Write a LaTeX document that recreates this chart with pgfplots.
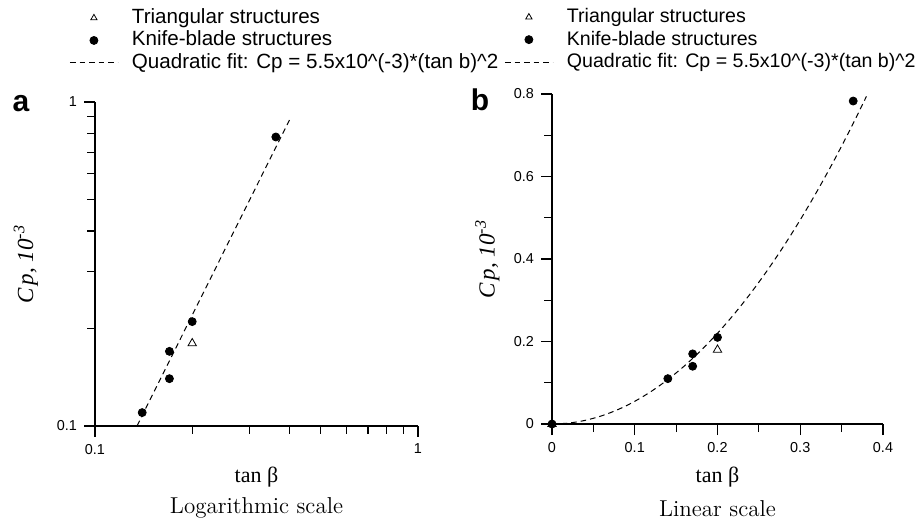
\documentclass[border=0pt]{standalone}
\usepackage{fontspec}
\newfontfamily\arial{Liberation Sans}
\newfontfamily\tnr{Liberation Serif}
\usepackage{pgfplots}
\pgfplotsset{compat=1.18}

\pgfplotsset{
  panel/.style={
    scale only axis,
    axis lines=left,
    axis line style={-, line width=0.6pt},
    tick align=outside,
    tick style={line width=0.6pt, black},
    minor tick style={line width=0.6pt, black},
    major tick length=5.5pt,
    minor tick length=4pt,
    /pgf/number format/assume math mode=true,
    tick label style={font=\arial\fontsize{7.2}{8}\selectfont},
    clip mode=individual,
    legend cell align=left,
    legend style={draw=none, fill=none, anchor=north west,
      font=\arial\fontsize{10.3}{12}\selectfont,
      nodes={inner sep=0pt, text height=7.5pt, text depth=2pt},
      row sep=1.75pt, column sep=0pt, inner sep=0pt},
    xlabel style={font=\tnr\fontsize{11}{13}\selectfont, anchor=center},
    ylabel style={font=\tnr\itshape\fontsize{11.5}{13}\selectfont, anchor=center, rotate=0},
  },
  tri/.style={only marks, mark=triangle, mark size=2.4pt,
    mark options={line width=0.4pt, fill=white, solid},
    legend image code/.code={\path[draw=none] (0pt,0pt) rectangle (31pt,0pt);
      \draw[mark size=1.8pt] plot coordinates {(12pt,0pt)};}},
  dot/.style={only marks, mark=*, mark size=2pt, black,
    legend image code/.code={\path[draw=none] (0pt,0pt) rectangle (31pt,0pt);
      \draw plot coordinates {(12pt,0pt)};}},
  fit/.style={black, line width=0.5pt, dash pattern=on 2.8pt off 2pt,
    legend image code/.code={\path[draw=none] (0pt,0pt) rectangle (31pt,0pt);
      \draw (0pt,0pt) -- (24pt,0pt);}},
}

\begin{document}
\begin{tikzpicture}
\path[use as bounding box] (0,0) rectangle (461pt,260.5pt);

% (a) logarithmic scale
\begin{axis}[panel,
  at={(47.5pt,47.5pt)}, anchor=south west,
  width=161.5pt, height=162pt,
  xmode=log, ymode=log,
  xmin=0.1, xmax=1, ymin=0.1, ymax=1,
  xtick={0.1,1}, xticklabels={0.1,1},
  ytick={0.1,1}, yticklabels={0.1,1},
  minor xtick={0.2,0.3,0.4,0.5,0.6,0.7,0.8,0.9},
  minor ytick={0.2,0.3,0.4,0.5,0.6,0.7,0.8,0.9},
  xlabel={tan β},
  xlabel style={at={(rel axis cs:0.5,-0.158)}},
  ylabel={C\kern1.5pt p, 10\textsuperscript{-3}},
  ylabel style={at={(rel axis cs:-0.214,0.5)}},
  legend style={at={(rel axis cs:-0.0804,1.29)}},
]
\addplot[tri] coordinates {(0.20,0.18)};
\addlegendentry{Triangular structures}
\addplot[dot] coordinates {(0.14,0.11) (0.17,0.17) (0.17,0.14) (0.20,0.21) (0.363,0.78)};
\addlegendentry{Knife-blade structures}
\addplot[fit] coordinates {(0.135,0.1002) (0.40,0.88)};
\addlegendentry{Quadratic fit: Cp = 5.5x10\^{}(-3)*(tan b)\^{}2}
\node[font=\rmfamily\fontsize{11.5}{13}\selectfont] at (rel axis cs:0.5,-0.253) {Logarithmic scale};
\node[font=\arial\bfseries\fontsize{15}{17}\selectfont] at (rel axis cs:-0.229,0.994) {a};
\end{axis}

% (b) linear scale
\begin{axis}[panel,
  at={(276pt,48.5pt)}, anchor=south west,
  width=165.5pt, height=165pt,
  xmin=0, xmax=0.4, ymin=0, ymax=0.8,
  xtick={0,0.1,0.2,0.3,0.4},
  minor xtick={0.05,0.15,0.25,0.35},
  ytick={0,0.2,0.4,0.6,0.8},
  minor ytick={0.1,0.3,0.5,0.7},
  xticklabel style={/pgf/number format/fixed, /pgf/number format/precision=1},
  yticklabel style={/pgf/number format/fixed, /pgf/number format/precision=1},
  xlabel={tan β},
  xlabel style={at={(rel axis cs:0.5,-0.16)}},
  ylabel={C\kern1.5pt p, 10\textsuperscript{-3}},
  ylabel style={at={(rel axis cs:-0.195,0.5)}},
  legend style={at={(rel axis cs:-0.145,1.263)},
    font=\arial\fontsize{9.8}{12}\selectfont},
]
\addplot[tri] coordinates {(0,0) (0.20,0.18)};
\addlegendentry{Triangular structures}
\addplot[dot] coordinates {(0,0) (0.14,0.11) (0.17,0.17) (0.17,0.14) (0.20,0.21) (0.364,0.783)};
\addlegendentry{Knife-blade structures}
\addplot[fit, smooth] coordinates {
  (0,0) (0.02,0.0022) (0.04,0.0088) (0.06,0.0198) (0.08,0.0352)
  (0.10,0.055) (0.12,0.0792) (0.14,0.1078) (0.16,0.1408) (0.18,0.1782)
  (0.20,0.22) (0.22,0.2662) (0.24,0.3168) (0.26,0.3718) (0.28,0.4312)
  (0.30,0.495) (0.32,0.5632) (0.34,0.6358) (0.36,0.7128) (0.38,0.7942)
};
\addlegendentry{Quadratic fit: Cp = 5.5x10\^{}(-3)*(tan b)\^{}2}
\node[font=\rmfamily\fontsize{11.5}{13}\selectfont] at (rel axis cs:0.5,-0.255) {Linear scale};
\node[font=\arial\bfseries\fontsize{15}{17}\selectfont] at (rel axis cs:-0.2175,0.982) {b};
\end{axis}
\end{tikzpicture}
\end{document}
